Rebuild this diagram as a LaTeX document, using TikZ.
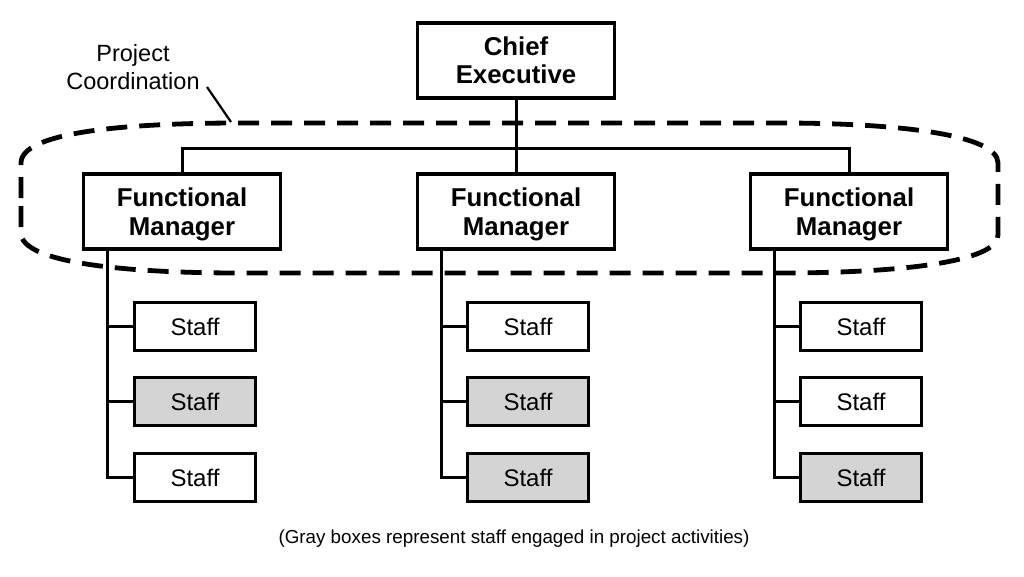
\documentclass[tikz,border=0pt]{standalone}
\usepackage{fontspec}
\setmainfont{Liberation Sans}
\begin{document}
\begin{tikzpicture}[x=1pt,y=-1pt,
  bigbox/.style={draw, line width=3.3pt, fill=white, minimum width=197pt, minimum height=75pt, inner sep=0pt, align=center, font=\fontsize{25.8}{28.5}\selectfont\bfseries},
  staffbox/.style={draw, line width=3pt, fill=white, minimum width=121pt, minimum height=48pt, inner sep=0pt, font=\fontsize{24}{26}\selectfont},
  conn/.style={line width=3pt},
  coord/.style={line width=4.8pt, dash pattern=on 21pt off 12pt}]
\useasboundingbox (0,0) rectangle (1024,576);
% project coordination outline
\draw[coord] (21,198) -- (21,163) .. controls (21,133) and (120,123) .. (240,123) -- (780,123)
  .. controls (900,123) and (998,135) .. (998,163) -- (998,235)
  .. controls (998,262) and (900,273) .. (780,273) -- (240,273)
  .. controls (120,273) and (21,262) .. (21,233) -- cycle;
% label
\node[align=center, font=\fontsize{23.5}{27.5}\selectfont, inner sep=0pt] (pc) at (133,67) {Project\\Coordination};
\coordinate (lt) at (207,87);
\coordinate (lb) at (231,122);
\draw[line width=2.2pt] (lt) -- (lb);
% nodes
\node[bigbox] (ce) at (516,60.5) {Chief\\Executive};
\node[bigbox, text depth=0pt] (lfm) at (182,211.5) {Functional\\Manager};
\node[bigbox, text depth=0pt] (mfm) at (516,211.5) {Functional\\Manager};
\node[bigbox, text depth=0pt] (rfm) at (849,211.5) {Functional\\Manager};
\coordinate (bus) at (516,148);
\draw[conn] (ce.south) -- (mfm.north);
\draw[conn] (lfm.north) |- (bus) -| (rfm.north);
% staff
\foreach \c/\x/\ga/\gb/\gc in {l/195/white/black!17/white, m/528/white/black!17/black!17, r/861/white/white/black!17}{
  \node[staffbox, fill=\ga] (\c s1) at (\x,326.5) {Staff};
  \node[staffbox, fill=\gb] (\c s2) at (\x,401.5) {Staff};
  \node[staffbox, fill=\gc] (\c s3) at (\x,477.5) {Staff};
  \coordinate (\c v) at ([xshift=25.5pt]\c fm.south west);
  \draw[conn] (\c v) |- (\c s3.west);
  \draw[conn] (\c s1.west) -- (\c s1.west -| \c v);
  \draw[conn] (\c s2.west) -- (\c s2.west -| \c v);
}
% caption
\node[font=\fontsize{18.8}{20}\selectfont, inner sep=0pt] (cap) at (514,539) {(Gray boxes represent staff engaged in project activities)};
\end{tikzpicture}
\end{document}
